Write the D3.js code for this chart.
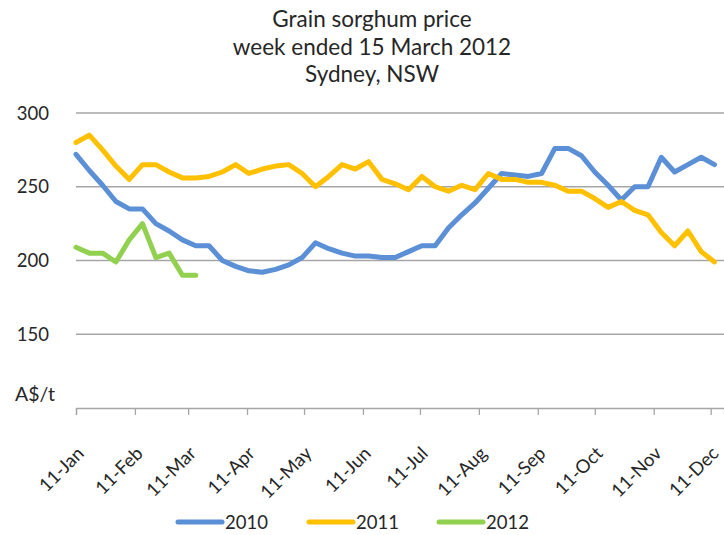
<!DOCTYPE html>
<html>
<head>
<meta charset="utf-8">
<script src="https://cdn.jsdelivr.net/npm/d3@7"></script>
<style>
  body { margin: 0; background: #fff; }
  svg text { font-family: Lato, "Open Sans", sans-serif; fill: #262626; }
</style>
</head>
<body>
<svg id="chart" width="724" height="535"></svg>
<script>
// weekly prices, A$/t, first week lines up with 11-Jan
const prices2010 = [272, 261, 251, 240, 235, 235, 225, 220, 214, 210,
  210, 200, 196, 193, 192, 194, 197, 202, 212, 208,
  205, 203, 203, 202, 202, 206, 210, 210, 222, 231,
  239, 249, 259, 258, 257, 259, 276, 276, 271, 260,
  251, 241, 250, 250, 270, 260, 265, 270, 265];
const prices2011 = [280, 285, 275, 264, 255, 265, 265, 260, 256, 256,
  257, 260, 265, 259, 262, 264, 265, 259, 250, 257,
  265, 262, 267, 255, 252, 248, 257, 250, 247, 251,
  248, 259, 255, 255, 253, 253, 251, 247, 247, 242,
  236, 240, 234, 231, 219, 210, 220, 206, 199];
const prices2012 = [209, 205, 205, 199, 214, 225, 202, 205, 190, 190];

const seriesNames = ['2010', '2011', '2012'];
const seriesColors = ['#5B8FD6', '#FFC000', '#92D050'];
const monthLabels = ['11-Jan', '11-Feb', '11-Mar', '11-Apr', '11-May', '11-Jun',
  '11-Jul', '11-Aug', '11-Sep', '11-Oct', '11-Nov', '11-Dec'];
const yTicks = [150, 200, 250, 300];
const titleLines = ['Grain sorghum price', 'week ended 15 March 2012', 'Sydney, NSW'];

const svg = d3.select('#chart');

const firstWeek = new Date(2011, 0, 11);
const weekDate = i => d3.timeDay.offset(firstWeek, i * 7);

const x = d3.scaleTime()
  .domain([firstWeek, new Date(2011, 11, 18)])
  .range([76, 724]);
const y = d3.scaleLinear()
  .domain([100, 300])
  .range([408, 113]);

// title
svg.append('g').selectAll('text')
  .data(titleLines)
  .enter()
  .append('text')
  .attr('x', 372)
  .attr('y', (d, i) => 27 + i * 27.5)
  .attr('text-anchor', 'middle')
  .style('font-size', '22.5px')
  .text(d => d);

// gridlines
svg.append('g').selectAll('line')
  .data(yTicks)
  .enter()
  .append('line')
  .attr('x1', 76)
  .attr('x2', 724)
  .attr('y1', d => y(d))
  .attr('y2', d => y(d))
  .attr('stroke', '#a6a6a6')
  .attr('stroke-width', 1.3);

// y labels
svg.append('g').selectAll('text')
  .data(yTicks)
  .enter()
  .append('text')
  .attr('x', 49)
  .attr('y', d => y(d))
  .attr('dy', '0.36em')
  .attr('text-anchor', 'end')
  .style('font-size', '18.5px')
  .text(d => d);

svg.append('text')
  .attr('x', 15)
  .attr('y', 401)
  .style('font-size', '19.5px')
  .text('A$/t');

// x axis
const tickDates = monthLabels.map((d, i) => new Date(2011, i, 11));
const xAxis = d3.axisBottom(x)
  .tickValues(tickDates)
  .tickSize(7)
  .tickFormat((d, i) => monthLabels[i]);

const gx = svg.append('g')
  .attr('transform', `translate(0,${y(100)})`)
  .call(xAxis);
gx.select('.domain').attr('stroke', '#a6a6a6').attr('stroke-width', 1.3);
gx.selectAll('.tick line').attr('stroke', '#a6a6a6').attr('stroke-width', 1.3);
gx.selectAll('.tick text')
  .attr('fill', '#262626')
  .style('font-size', '18.5px')
  .attr('text-anchor', 'end')
  .attr('x', 0)
  .attr('y', 0)
  .attr('dy', '0.35em')
  .attr('transform', 'translate(4,42) rotate(-45)');

// lines
const line = d3.line()
  .x((d, i) => x(weekDate(i)))
  .y(d => y(d));

const allSeries = [prices2010, prices2011, prices2012];
svg.append('g').selectAll('path')
  .data(allSeries)
  .enter()
  .append('path')
  .attr('d', line)
  .attr('fill', 'none')
  .attr('stroke', (d, i) => seriesColors[i])
  .attr('stroke-width', 5)
  .attr('stroke-linejoin', 'round')
  .attr('stroke-linecap', 'round');

// legend
const legendX = [178, 309, 439];
const legend = svg.append('g').selectAll('g')
  .data(seriesNames)
  .enter()
  .append('g')
  .attr('transform', (d, i) => `translate(${legendX[i]},522)`);
legend.append('line')
  .attr('x1', 0)
  .attr('x2', 44)
  .attr('stroke', (d, i) => seriesColors[i])
  .attr('stroke-width', 5)
  .attr('stroke-linecap', 'round');
legend.append('text')
  .attr('x', 47)
  .attr('dy', '0.36em')
  .style('font-size', '18.5px')
  .text(d => d);
</script>
</body>
</html>
